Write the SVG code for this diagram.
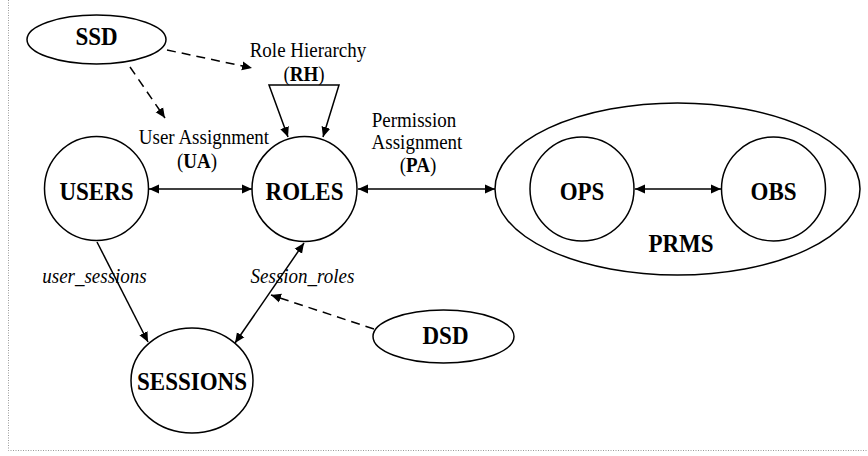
<svg xmlns="http://www.w3.org/2000/svg" width="868" height="456" viewBox="0 0 868 456">
<defs>
<marker id="ah" viewBox="0 0 10 10" refX="10" refY="5" markerWidth="10" markerHeight="10" markerUnits="userSpaceOnUse" orient="auto-start-reverse">
<path d="M0,0.5 L10,5 L0,9.5 Z" fill="#000"/>
</marker>
</defs>
<style>
.shape{fill:#fff;stroke:#000;stroke-width:1.5}
.lbl{font-family:"Liberation Serif","Times New Roman",serif;font-size:23px;font-weight:bold;text-anchor:middle;fill:#000}
.txt{font-family:"Liberation Serif","Times New Roman",serif;font-size:19px;text-anchor:middle;fill:#000}
.it{font-style:italic}
.b{font-weight:bold}
.edge{fill:none;stroke:#000;stroke-width:1.5}
.dash{stroke-dasharray:9,6}
.border{fill:none;stroke:#999;stroke-width:1;stroke-dasharray:1,1.5}
</style>
<rect width="868" height="456" fill="#fff"/>
<path class="border" d="M8.5,0 V450.5 H868"/>

<g id="SSD"><ellipse class="shape" cx="96.5" cy="39.5" rx="69.5" ry="24.5"/><text class="lbl" x="96.5" y="45" transform="translate(0,-4.5) scale(1,1.1)">SSD</text></g>
<g id="USERS"><circle class="shape" cx="96.5" cy="188.5" r="52"/><text class="lbl" x="96.5" y="200" transform="translate(0,-20) scale(1,1.1)">USERS</text></g>
<g id="ROLES"><circle class="shape" cx="304.5" cy="189" r="52.5"/><text class="lbl" x="304.5" y="200" transform="translate(0,-20) scale(1,1.1)">ROLES</text></g>
<g id="SESSIONS"><ellipse class="shape" cx="192" cy="380.5" rx="61" ry="52.5"/><text class="lbl" x="192" y="390" transform="translate(0,-39) scale(1,1.1)">SESSIONS</text></g>
<g id="DSD"><ellipse class="shape" cx="443.5" cy="336.5" rx="70.5" ry="26.5"/><text class="lbl" x="445.5" y="344" transform="translate(0,-34.4) scale(1,1.1)">DSD</text></g>
<g id="PRMS"><ellipse class="shape" cx="677.5" cy="189" rx="182.5" ry="86"/><text class="lbl" x="681" y="252" transform="translate(0,-25.2) scale(1,1.1)">PRMS</text></g>
<g id="OPS"><circle class="shape" cx="582" cy="189" r="52"/><text class="lbl" x="582" y="200" transform="translate(0,-20) scale(1,1.1)">OPS</text></g>
<g id="OBS"><circle class="shape" cx="773.5" cy="189" r="52"/><text class="lbl" x="773.5" y="200" transform="translate(0,-20) scale(1,1.1)">OBS</text></g>

<g id="connectors">
<line class="edge" x1="149" y1="189" x2="252" y2="189" marker-start="url(#ah)" marker-end="url(#ah)"/>
<line class="edge" x1="358" y1="189" x2="495" y2="189" marker-start="url(#ah)" marker-end="url(#ah)"/>
<line class="edge" x1="635" y1="189" x2="721" y2="189" marker-start="url(#ah)" marker-end="url(#ah)"/>
<path class="edge" d="M288,137 L269,85 H339 L323,137" marker-start="url(#ah)" marker-end="url(#ah)"/>
<line class="edge" x1="97" y1="242" x2="148" y2="342" marker-end="url(#ah)"/>
<line class="edge" x1="304" y1="243" x2="235" y2="343" marker-start="url(#ah)" marker-end="url(#ah)"/>
<line class="edge dash" x1="374" y1="329" x2="271" y2="295" marker-end="url(#ah)"/>
<line class="edge dash" x1="167" y1="50" x2="252" y2="68" marker-end="url(#ah)"/>
<line class="edge dash" x1="130" y1="67" x2="165" y2="118" marker-end="url(#ah)"/>
</g>

<g id="labels">
<text class="txt" x="308" y="57" transform="translate(0,-5.7) scale(1,1.1)">Role Hierarchy</text>
<text class="txt" x="304" y="81" transform="translate(0,-8.1) scale(1,1.1)">(<tspan class="b">RH</tspan>)</text>
<text class="txt" x="204" y="144" transform="translate(0,-14.4) scale(1,1.1)">User Assignment</text>
<text class="txt" x="197" y="168" transform="translate(0,-16.8) scale(1,1.1)">(<tspan class="b">UA</tspan>)</text>
<text class="txt" x="414" y="127" transform="translate(0,-12.7) scale(1,1.1)">Permission</text>
<text class="txt" x="417" y="149" transform="translate(0,-14.9) scale(1,1.1)">Assignment</text>
<text class="txt" x="418" y="172" transform="translate(0,-17.2) scale(1,1.1)">(<tspan class="b">PA</tspan>)</text>
<text class="txt it" x="94.5" y="283" transform="translate(0,-28.3) scale(1,1.1)">user_sessions</text>
<text class="txt it" x="302.5" y="283" transform="translate(0,-28.3) scale(1,1.1)">Session_roles</text>
</g>
</svg>
